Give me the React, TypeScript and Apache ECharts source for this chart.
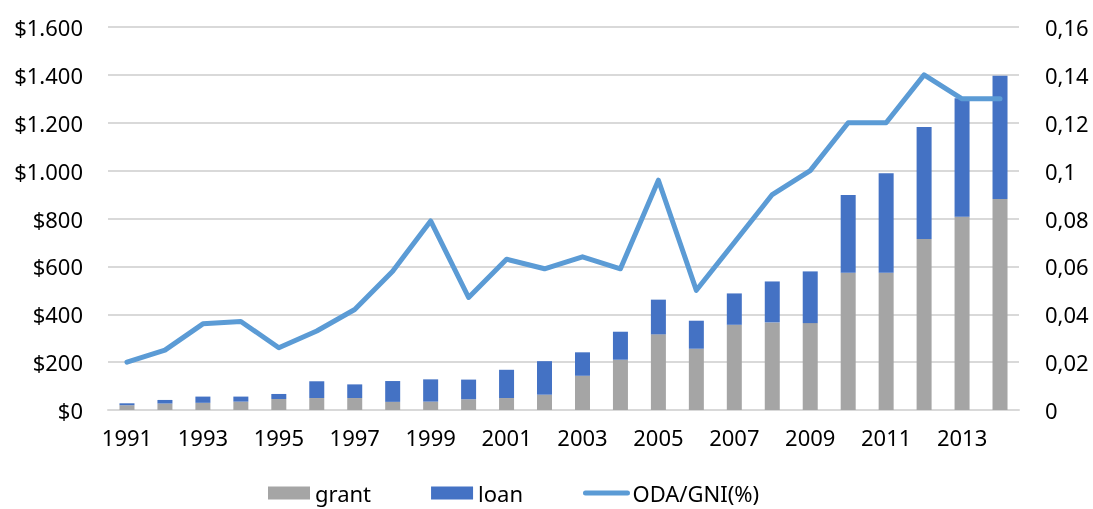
import React, { useEffect, useRef } from "react";
import * as echarts from "echarts";

const years = ["1991","1992","1993","1994","1995","1996","1997","1998","1999","2000","2001","2002","2003","2004","2005","2006","2007","2008","2009","2010","2011","2012","2013","2014"];
const grant = [20, 27, 30, 35, 46, 50, 50, 34, 35, 45, 50, 64, 143, 210, 316, 256, 356, 366, 363, 573, 573, 714, 807, 881];
const loan = [8, 15, 26, 21, 21, 70, 57, 87, 93, 82, 118, 140, 98, 117, 145, 117, 131, 171, 216, 325, 416, 468, 495, 515];
const odaGni = [0.02, 0.025, 0.036, 0.037, 0.026, 0.033, 0.042, 0.058, 0.079, 0.047, 0.063, 0.059, 0.064, 0.059, 0.096, 0.05, 0.07, 0.09, 0.1, 0.12, 0.12, 0.14, 0.13, 0.13];

const FONT = "'Noto Sans', 'Open Sans', sans-serif";

export default function App() {
  const ref = useRef<HTMLDivElement>(null);
  useEffect(() => {
    if (!ref.current) return;
    const chart = echarts.init(ref.current, null, { renderer: "svg" });
    chart.setOption({
      animation: false,
      textStyle: { fontFamily: FONT },
      grid: { left: 108, right: 74, top: 27, bottom: 99, containLabel: false },
      legend: {
        left: 263,
        top: 477,
        itemWidth: 42,
        itemHeight: 13,
        itemGap: 60,
        textStyle: { fontSize: 22, color: "#000", fontFamily: FONT },
        data: [
          { name: "grant", icon: "rect" },
          { name: "loan", icon: "rect" },
          {
            name: "ODA/GNI(%)",
            itemStyle: { opacity: 0 },
            lineStyle: { width: 5, cap: "round", color: "#5B9BD5" },
          },
        ],
      },
      xAxis: {
        type: "category",
        data: years,
        axisTick: { show: false },
        axisLine: { lineStyle: { color: "#D9D9D9", width: 2 } },
        axisLabel: { interval: 1, fontSize: 22, color: "#000", margin: 16, fontFamily: FONT },
      },
      yAxis: [
        {
          type: "value",
          min: 0,
          max: 1600,
          interval: 200,
          axisLine: { show: false },
          axisTick: { show: false },
          splitLine: { lineStyle: { color: "#D9D9D9", width: 2 } },
          axisLabel: {
            fontSize: 22,
            color: "#000",
            margin: 25,
            fontFamily: FONT,
            formatter: (v: number) => "$" + String(v).replace(/\B(?=(\d{3})+(?!\d))/g, "."),
          },
        },
        {
          type: "value",
          min: 0,
          max: 0.16,
          interval: 0.02,
          axisLine: { show: false },
          axisTick: { show: false },
          splitLine: { show: false },
          axisLabel: {
            fontSize: 22,
            color: "#000",
            margin: 26,
            fontFamily: FONT,
            formatter: (v: number) => String(parseFloat(v.toFixed(2))).replace(".", ","),
          },
        },
      ],
      series: [
        {
          name: "grant",
          type: "bar",
          stack: "total",
          data: grant,
          barWidth: 15,
          itemStyle: { color: "#A5A5A5" },
        },
        {
          name: "loan",
          type: "bar",
          stack: "total",
          data: loan,
          barWidth: 15,
          itemStyle: { color: "#4472C4" },
        },
        {
          name: "ODA/GNI(%)",
          type: "line",
          yAxisIndex: 1,
          data: odaGni,
          symbol: "circle",
          showSymbol: false,
          lineStyle: { color: "#5B9BD5", width: 5, cap: "round", join: "round" },
          itemStyle: { color: "#5B9BD5" },
        },
      ],
    });
    return () => chart.dispose();
  }, []);
  return <div ref={ref} style={{ position: "fixed", left: 0, top: 0, width: 1093, height: 509 }} />;
}
